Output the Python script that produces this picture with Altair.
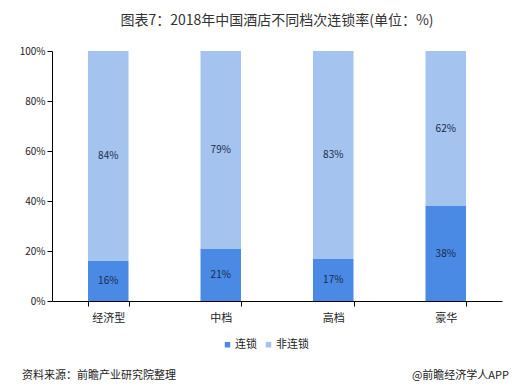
import altair as alt
import pandas as pd

categories = ["经济型", "中档", "高档", "豪华"]
series = ["连锁", "非连锁"]
chain = [16, 21, 17, 38]
nonchain = [84, 79, 83, 62]
colors = ["#4a89e4", "#a4c3ef"]

rows = []
for i, c in enumerate(categories):
    rows.append({"cat": c, "series": series[0], "order": 0, "v": chain[i]})
    rows.append({"cat": c, "series": series[1], "order": 1, "v": nonchain[i]})
df = pd.DataFrame(rows)

font = "Noto Sans CJK SC"

base = alt.Chart(df).encode(
    x=alt.X("cat:N", sort=categories, title=None,
            scale=alt.Scale(paddingInner=0.64, paddingOuter=0.32),
            axis=alt.Axis(labelAngle=0, labelFontSize=11, labelColor="#222",
                          labelPadding=6, domainColor="#000", tickColor="#000",
                          tickBand="extent", tickSize=5, labelFont=font)),
)

bars = base.mark_bar().encode(
    y=alt.Y("v:Q", stack="zero", title=None,
            scale=alt.Scale(domain=[0, 100]),
            axis=alt.Axis(values=[0, 20, 40, 60, 80, 100], labelExpr="datum.value + '%'",
                          grid=False, domainColor="#000", tickColor="#000", tickSize=5,
                          labelFontSize=10, labelColor="#222", labelFont=font)),
    color=alt.Color("series:N", sort=series, scale=alt.Scale(domain=series, range=colors),
                    legend=alt.Legend(title=None, orient="none", legendX=170, legendY=288,
                                      direction="horizontal", symbolType="square",
                                      symbolSize=30, labelFontSize=11, labelFont=font,
                                      labelColor="#222", columnPadding=6, labelOffset=2,
                                      symbolStrokeWidth=0)),
    order=alt.Order("order:Q"),
)

labels = base.mark_text(fontSize=10, color="#1a2a4a", font=font).encode(
    y=alt.Y("mid:Q"),
    text=alt.Text("lab:N"),
).transform_stack(
    stack="v", groupby=["cat"], as_=["y0", "y1"], sort=[alt.SortField("order")]
).transform_calculate(
    mid="(datum.y0 + datum.y1) / 2", lab="datum.v + '%'"
)

left_note = alt.Chart(pd.DataFrame({"t": ["资料来源：前瞻产业研究院整理"]})).mark_text(
    align="left", baseline="middle", fontSize=11, color="#222", font=font
).encode(x=alt.value(-30), y=alt.value(325), text="t:N")

right_note = alt.Chart(pd.DataFrame({"t": ["@前瞻经济学人APP"]})).mark_text(
    align="right", baseline="middle", fontSize=11, color="#222", font=font
).encode(x=alt.value(457), y=alt.value(325), text="t:N")

chart = alt.layer(bars, labels, left_note, right_note).properties(
    width=450, height=250,
    title=alt.TitleParams("图表7：2018年中国酒店不同档次连锁率(单位：%)", fontSize=14,
                          fontWeight="normal", color="#333", font=font, anchor="middle",
                          offset=18),
    autosize=alt.AutoSizeParams(type="none"),
    padding={"left": 44, "top": 43, "right": 21, "bottom": 81},
).configure_view(stroke=None)

chart.save("out.html", embed_options={"renderer": "svg", "actions": False})
